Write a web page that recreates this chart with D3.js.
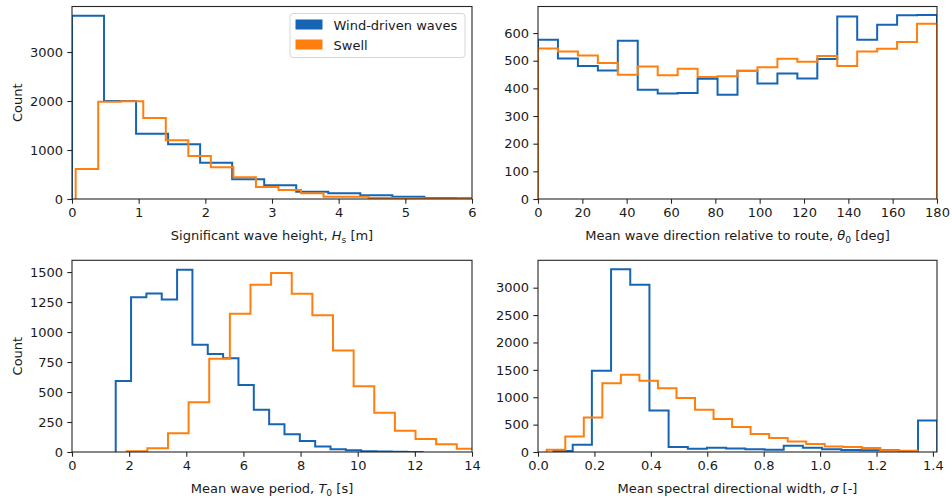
<!DOCTYPE html>
<html>
<head>
<meta charset="utf-8">
<script src="https://cdn.jsdelivr.net/npm/d3@7"></script>
<style>
  html, body { margin: 0; padding: 0; background: #fff; }
  svg { display: block; }
  text { font-family: "DejaVu Sans", sans-serif; fill: #1a1a1a; }
</style>
</head>
<body>
<svg id="chart" width="952" height="498"></svg>
<script>
// Histogram counts per bin; bins are uniform, starting at *Start with width *Bin.
const seriesNames = ["Wind-driven waves", "Swell"];

// Significant wave height Hs [m]
const hsWindStart = 0.0, hsWindBin = 0.4805;
const hsWind = [3741, 2000, 1333, 1116, 741, 401, 279, 150, 116, 75, 48, 20, 15];
const hsSwellStart = 0.055, hsSwellBin = 0.338;
const hsSwell = [612, 1986, 1995, 1653, 1197, 878, 647, 442, 245, 184, 116, 48, 48, 20, 15, 10, 8, 6];

// Mean wave direction relative to route θ0 [deg]
const dirStart = 0, dirBin = 9;
const dirWind = [576, 508, 481, 465, 572, 395, 381, 383, 435, 377, 464, 418, 454, 436, 506, 660, 576, 630, 664, 665];
const dirSwell = [544, 533, 519, 492, 449, 479, 447, 471, 441, 444, 463, 476, 507, 496, 517, 481, 533, 543, 568, 634];

// Mean wave period T0 [s]
const tWindStart = 1.53, tWindBin = 0.537;
const tWind = [592, 1289, 1322, 1272, 1520, 895, 817, 781, 558, 353, 231, 148, 92, 45, 23, 14, 6, 4, 2, 1];
const tSwellStart = 1.915, tSwellBin = 0.722;
const tSwell = [6, 31, 156, 414, 778, 1153, 1395, 1492, 1320, 1139, 847, 548, 328, 178, 108, 64, 28, 12, 6, 3];

// Mean spectral directional width σ [-]
const sWindStart = 0.055, sWindBin = 0.068;
const sWind = [20, 133, 1483, 3335, 3055, 758, 91, 60, 78, 66, 48, 42, 115, 78, 52, 35, 30, 30, 8, 576];
const sSwellStart = 0.031, sSwellBin = 0.0657;
const sSwell = [42, 284, 631, 1257, 1409, 1299, 1166, 984, 771, 601, 455, 328, 255, 193, 146, 102, 91, 73, 29, 25];

// Axis ticks
const hsXTicks = [0, 1, 2, 3, 4, 5, 6];
const hsYTicks = [0, 1000, 2000, 3000];
const dirXTicks = [0, 20, 40, 60, 80, 100, 120, 140, 160, 180];
const dirYTicks = [0, 100, 200, 300, 400, 500, 600];
const tXTicks = [0, 2, 4, 6, 8, 10, 12, 14];
const tYTicks = [0, 250, 500, 750, 1000, 1250, 1500];
const sXTicks = [0, 0.2, 0.4, 0.6, 0.8, 1.0, 1.2, 1.4];
const sYTicks = [0, 500, 1000, 1500, 2000, 2500, 3000];

const colors = { wind: "#1565b4", swell: "#ff7f0e" };

const svg = d3.select("#chart");

// Panel frames (pixel rectangles of each axes box)
const leftX = [72, 472], rightX = [538, 937];
const topY = [6.5, 199], botY = [260.3, 452];

const panels = [
  { id: "hs", x: leftX, y: topY, xDomain: [0, 6], yMax: 3929,
    xTicks: hsXTicks, yTicks: hsYTicks, xFmt: d3.format("d"),
    series: [[hsWindStart, hsWindBin, hsWind], [hsSwellStart, hsSwellBin, hsSwell]],
    ylabel: true, label: [["Significant wave height, "], ["H", "it"], ["s", "sub"], [" [m]"]], legend: true },
  { id: "dir", x: rightX, y: topY, xDomain: [0, 180], yMax: 696,
    xTicks: dirXTicks, yTicks: dirYTicks, xFmt: d3.format("d"),
    series: [[dirStart, dirBin, dirWind], [dirStart, dirBin, dirSwell]],
    ylabel: false, label: [["Mean wave direction relative to route, "], ["θ", "it"], ["0", "sub"], [" [deg]"]] },
  { id: "t", x: leftX, y: botY, xDomain: [0, 14], yMax: 1598,
    xTicks: tXTicks, yTicks: tYTicks, xFmt: d3.format("d"),
    series: [[tWindStart, tWindBin, tWind], [tSwellStart, tSwellBin, tSwell]],
    ylabel: true, label: [["Mean wave period, "], ["T", "it"], ["0", "sub"], [" [s]"]] },
  { id: "s", x: rightX, y: botY, xDomain: [0, 1.4144], yMax: 3500,
    xTicks: sXTicks, yTicks: sYTicks, xFmt: d3.format(".1f"),
    series: [[sWindStart, sWindBin, sWind], [sSwellStart, sSwellBin, sSwell]],
    ylabel: false, label: [["Mean spectral directional width, "], ["σ", "it"], [" [-]"]] }
];

const seriesColors = [colors.wind, colors.swell];

// Outline of a step histogram: up from zero at the first edge, across each bin, down at the last edge.
function stepPoints(start, width, counts) {
  const pts = [[start, 0]];
  counts.forEach((c, i) => {
    pts.push([start + i * width, c]);
    pts.push([start + (i + 1) * width, c]);
  });
  pts.push([start + counts.length * width, 0]);
  return pts;
}

panels.forEach(p => {
  const x = d3.scaleLinear().domain(p.xDomain).range(p.x);
  const y = d3.scaleLinear().domain([0, p.yMax]).range([p.y[1], p.y[0]]);
  const g = svg.append("g");

  const clipId = "clip-" + p.id;
  svg.append("clipPath").attr("id", clipId)
    .append("rect").attr("x", p.x[0]).attr("y", p.y[0] - 1)
    .attr("width", p.x[1] - p.x[0]).attr("height", p.y[1] - p.y[0] + 1);

  const line = d3.line().x(d => x(d[0])).y(d => y(d[1]));
  const plot = g.append("g").attr("clip-path", `url(#${clipId})`);
  p.series.forEach((s, i) => {
    plot.append("path")
      .attr("d", line(stepPoints(s[0], s[1], s[2])))
      .attr("fill", "none")
      .attr("stroke", seriesColors[i])
      .attr("stroke-width", 2)
      .attr("stroke-linejoin", "miter");
  });

  // Axes
  const xAxis = d3.axisBottom(x).tickValues(p.xTicks).tickFormat(p.xFmt).tickSize(4.7).tickPadding(4.2);
  const yAxis = d3.axisLeft(y).tickValues(p.yTicks).tickFormat(d3.format("d")).tickSize(4.7).tickPadding(4.2);

  const gx = g.append("g").attr("transform", `translate(0,${p.y[1]})`).call(xAxis);
  const gy = g.append("g").attr("transform", `translate(${p.x[0]},0)`).call(yAxis);
  [gx, gy].forEach(a => {
    a.select(".domain").remove();
    a.selectAll("line").attr("stroke", "#262626").attr("stroke-width", 1.1);
    a.selectAll("text").attr("font-size", 13).attr("font-family", "DejaVu Sans").attr("fill", "#1a1a1a");
  });

  // Frame
  g.append("rect")
    .attr("x", p.x[0]).attr("y", p.y[0])
    .attr("width", p.x[1] - p.x[0]).attr("height", p.y[1] - p.y[0])
    .attr("fill", "none").attr("stroke", "#262626").attr("stroke-width", 1.1);

  // x label with math-style parts
  const xl = g.append("text")
    .attr("x", (p.x[0] + p.x[1]) / 2)
    .attr("y", p.y[1] + 41)
    .attr("text-anchor", "middle")
    .attr("font-size", 13);
  let afterSub = false;
  p.label.forEach(part => {
    const t = xl.append("tspan").text(part[0]);
    if (part[1] === "it") t.attr("font-style", "italic");
    if (part[1] === "sub") {
      t.attr("font-size", 9.2).attr("dy", 2.6);
      afterSub = true;
    } else if (afterSub) {
      t.attr("dy", -2.6);
      afterSub = false;
    }
  });

  if (p.ylabel) {
    g.append("text")
      .attr("transform", `translate(21.5,${(p.y[0] + p.y[1]) / 2}) rotate(-90)`)
      .attr("text-anchor", "middle")
      .attr("font-size", 13)
      .text("Count");
  }

  if (p.legend) {
    const lg = g.append("g");
    lg.append("rect")
      .attr("x", 290).attr("y", 13.5).attr("width", 175).attr("height", 44)
      .attr("rx", 3).attr("fill", "#fff").attr("fill-opacity", 0.8)
      .attr("stroke", "#d6d6d6").attr("stroke-width", 1);
    seriesNames.forEach((name, i) => {
      const yy = 19.5 + i * 20;
      lg.append("rect").attr("x", 295.5).attr("y", yy).attr("width", 27).attr("height", 10)
        .attr("fill", seriesColors[i]);
      lg.append("text").attr("x", 333.5).attr("y", yy + 10).attr("font-size", 13).text(name);
    });
  }
});
</script>
</body>
</html>
